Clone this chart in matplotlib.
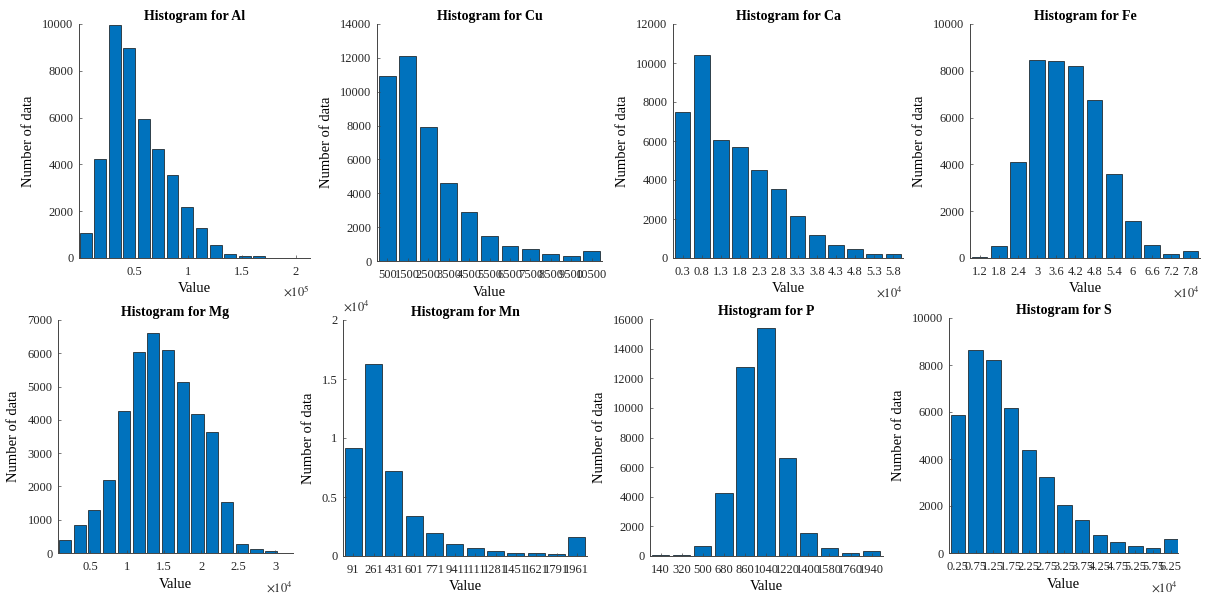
import matplotlib
matplotlib.use("Agg")
import matplotlib.pyplot as plt
from matplotlib.ticker import FixedLocator, FuncFormatter

plt.rcParams['font.family'] = ['Liberation Serif', 'DejaVu Serif']
plt.rcParams['mathtext.fontset'] = 'stix'

# ---------------- data ----------------
al_centers = [4500, 17950, 31400, 44850, 58300, 71750, 85200, 98650, 112100,
              125550, 139000, 152450, 165900, 179350, 192800, 206250]
al_counts = [1070, 4230, 9940, 8960, 5940, 4660, 3550, 2180, 1280, 570, 185,
             100, 100, 15, 10, 10]

cu_centers = [500, 1500, 2500, 3500, 4500, 5500, 6500, 7500, 8500, 9500, 10500]
cu_counts = [10900, 12090, 7890, 4600, 2880, 1480, 890, 710, 415, 300, 610]

ca_centers = [3000, 8000, 13000, 18000, 23000, 28000, 33000, 38000, 43000,
              48000, 53000, 58000]
ca_counts = [7490, 10430, 6030, 5690, 4500, 3560, 2170, 1180, 650, 445, 220, 220]

fe_centers = [12000, 18000, 24000, 30000, 36000, 42000, 48000, 54000, 60000,
              66000, 72000, 78000]
fe_counts = [30, 530, 4090, 8480, 8410, 8190, 6770, 3590, 1600, 555, 185, 285]

mg_centers = [1600, 3590, 5580, 7570, 9560, 11550, 13540, 15530, 17520, 19510,
              21500, 23490, 25480, 27470, 29460, 31450]
mg_counts = [390, 850, 1300, 2200, 4270, 6030, 6600, 6100, 5130, 4170, 3650,
             1520, 260, 130, 50, 10]

mn_centers = [91, 261, 431, 601, 771, 941, 1111, 1281, 1451, 1621, 1791, 1961]
mn_counts = [9180, 16300, 7200, 3420, 1920, 1050, 680, 450, 280, 230, 200, 1640]

p_centers = [140, 320, 500, 680, 860, 1040, 1220, 1400, 1580, 1760, 1940]
p_counts = [45, 90, 650, 4280, 12790, 15380, 6600, 1530, 520, 180, 340]

s_centers = [2500, 7500, 12500, 17500, 22500, 27500, 32500, 37500, 42500,
             47500, 52500, 57500, 62500]
s_counts = [5860, 8650, 8230, 6170, 4370, 3230, 2040, 1390, 770, 470, 310, 210, 610]

W, H = 1208, 602
fig = plt.figure(figsize=(W / 100, H / 100), dpi=100)

BAR = '#0072BD'
AX = '#444444'

def fmt_g(scale):
    return FuncFormatter(lambda v, p: ('%g' % round(v / scale, 4)))

def panel(box, name, centers, counts, step, xlim, ylim, yticks,
          xticks=None, xscale=1, xexp=None, yscale=1, yexp=None):
    l, t, r, b = box
    ax = fig.add_axes([l / W, (H - b) / H, (r - l) / W, (b - t) / H])
    ax.bar(centers, counts, width=step * 0.82, color=BAR,
           edgecolor='#101010', linewidth=0.5)
    ax.set_xlim(*xlim)
    ax.set_ylim(*ylim)
    ax.set_yticks(yticks)
    ax.yaxis.set_major_formatter(fmt_g(yscale))
    if xticks is None:
        xticks = centers
    ax.xaxis.set_major_locator(FixedLocator(xticks))
    ax.xaxis.set_major_formatter(fmt_g(xscale))
    for s in ('top', 'right'):
        ax.spines[s].set_visible(False)
    for s in ('left', 'bottom'):
        ax.spines[s].set_color(AX)
        ax.spines[s].set_linewidth(0.7)
    ax.tick_params(direction='in', length=2.5, width=0.5, colors=AX,
                   labelcolor='#262626', labelsize=9)
    ax.tick_params(axis='x', pad=6)
    ax.tick_params(axis='y', pad=4)
    ax.set_title('Histogram for ' + name, fontsize=10, fontweight='bold', pad=3)
    ax.set_xlabel('Value', fontsize=10.5, labelpad=3)
    ax.set_ylabel('Number of data', fontsize=10.5, labelpad=5)
    if xexp is not None:
        ax.annotate(r'$\times10^{%d}$' % xexp, xy=(1, 0), xycoords='axes fraction',
                    xytext=(0, -34), textcoords='offset pixels',
                    ha='right', va='center', fontsize=9, color='#262626')
    if yexp is not None:
        ax.annotate(r'$\times10^{%d}$' % yexp, xy=(0, 1), xycoords='axes fraction',
                    xytext=(0, 14), textcoords='offset pixels',
                    ha='left', va='center', fontsize=9, color='#262626')
    return ax

panel((79, 24, 310, 258), 'Al', al_centers, al_counts, 13450,
      (-1800, 213000), (0, 10000), range(0, 10001, 2000),
      xticks=[50000, 100000, 150000, 200000], xscale=1e5, xexp=5)
panel((377, 24, 602, 261), 'Cu', cu_centers, cu_counts, 1000,
      (0, 11000), (0, 14000), range(0, 14001, 2000))
panel((673, 24, 903, 258), 'Ca', ca_centers, ca_counts, 5000,
      (500, 60500), (0, 12000), range(0, 12001, 2000), xscale=1e4, xexp=4)
panel((970, 24, 1200, 258), 'Fe', fe_centers, fe_counts, 6000,
      (9000, 81000), (0, 10000), range(0, 10001, 2000), xscale=1e4, xexp=4)
panel((58, 320, 293, 553), 'Mg', mg_centers, mg_counts, 1990,
      (670, 32400), (0, 7000), range(0, 7001, 1000),
      xticks=[5000, 10000, 15000, 20000, 25000, 30000], xscale=1e4, xexp=4)
panel((343, 320, 587, 556), 'Mn', mn_centers, mn_counts, 170,
      (6, 2046), (0, 20000), range(0, 20001, 5000), yscale=1e4, yexp=4)
panel((650, 319, 883, 556), 'P', p_centers, p_counts, 180,
      (50, 2037), (0, 16000), range(0, 16001, 2000))
panel((949, 318, 1178, 553), 'S', s_centers, s_counts, 5000,
      (0, 64500), (0, 10000), range(0, 10001, 2000), xscale=1e4, xexp=4)

fig.savefig('out.png', dpi=100)
